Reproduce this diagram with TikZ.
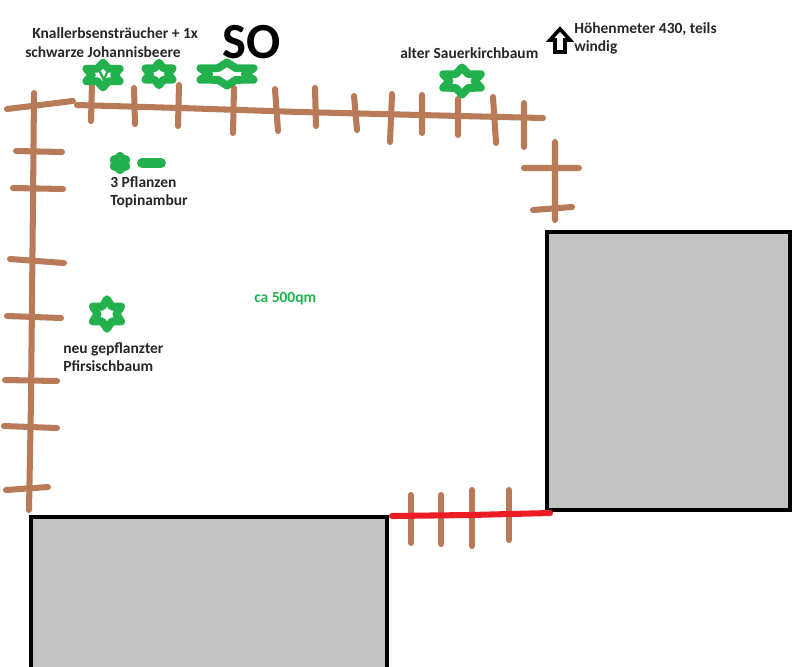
\documentclass[tikz,border=0pt]{standalone}
\usepackage{fontspec}
\setmainfont{Carlito}
\usetikzlibrary{shapes.geometric}
\definecolor{fencebrown}{HTML}{B97A57}
\definecolor{plantgreen}{HTML}{22B14C}
\definecolor{gatered}{HTML}{ED1C24}
\definecolor{housegray}{HTML}{C3C3C3}
\begin{document}
\begin{tikzpicture}[x=0.025cm,y=-0.025cm,
  fz/.style={draw=fencebrown,line width=4.3pt,line cap=round,line join=round},
  rt/.style={draw=gatered,line width=4.3pt,line cap=round},
  hs/.style={draw=black,fill=housegray,line width=2.8pt,line join=miter},
  pl/.style={draw=plantgreen,star,star points=6,star point ratio=1.73,inner sep=0pt,line width=5.6pt,line join=round,transform shape},
  lb/.style={font=\bfseries\fontsize{11}{13.2}\selectfont,align=left,anchor=north west,inner sep=0pt,text=black!85}]
\useasboundingbox (0,0) rectangle (800,666);
% houses
\path[hs] (547,232) rectangle (790,510);
\path[hs] (31,517) -- (387,517) -- (387,680) -- (31,680) -- cycle;
% fence left
\path[fz] (7,109) -- (40,105) -- (73,101);
\path[fz] (34,93) -- (33,200) -- (32,300) -- (31,400) -- (29,510);
\path[fz] (16,151) -- (62,152) (13,188) -- (63,189) (10,259) -- (64,263);
\path[fz] (7,316) -- (61,318) (5,380) -- (57,381) (4,426) -- (57,428) (6,490) -- (48,487);
% fence top
\path[fz] (77,105) -- (180,108) -- (300,112) -- (380,114) -- (460,116) -- (543,118);
\path[fz] (92,83) -- (91,121) (134,88) -- (135,124) (179,85) -- (178,126) (234,88) -- (233,133);
\path[fz] (275,89) -- (278,131) (315,88) -- (316,126) (354,96) -- (357,130) (392,94) -- (390,142);
\path[fz] (422,95) -- (422,133) (458,99) -- (458,135) (493,97) -- (496,143) (524,103) -- (524,147);
% fence right
\path[fz] (555,142) -- (555,220) (524,168) -- (579,168) (533,210) -- (572,207);
% gate
\path[fz] (411,495) -- (411,543) (441,495) -- (441,544) (472,490) -- (472,546) (509,490) -- (509,540);
\path[rt] (392,516) -- (470,515) -- (550,513);
% plants
\node[pl,minimum size=0.62cm,xscale=1.55] (strauchA) at (103,75) {};
\node[pl,minimum size=0.56cm,xscale=1.4] (strauchB) at (159,74) {};
\node[pl,minimum size=0.58cm,xscale=2.65] (strauchC) at (227,74) {};
\node[pl,minimum size=0.68cm,xscale=1.6] (kirsche) at (462,81) {};
\node[pl,minimum size=0.74cm,xscale=1.1] (pfirsich) at (107,314) {};
\node[pl,minimum size=0.32cm,line width=6.5pt] (topiA) at (120,163) {};
\draw[plantgreen,line width=7pt,line cap=round] (topiA.center) ++(22,0) coordinate (topiB) -- ++(19,0) coordinate (topiC);
\draw[plantgreen,line width=1.6pt,line cap=round] (100,72) -- (104,80) -- (108,70);
% arrow
\draw[black,line width=2.6pt,line join=miter,fill=white] (560,29) -- (570,40) -- (565,40) -- (565,52) -- (555,52) -- (555,40) -- (550,40) -- cycle;
% labels
\node[lb] (knaller) at (32,27) {Knallerbsensträucher + 1x};
\node[lb] (johannis) at (25,46) {schwarze Johannisbeere};
\node[lb,font=\bfseries\fontsize{36}{36}\selectfont,text=black] (so) at (222,25) {SO};
\node[lb] (sauer) at (400,47) {alter Sauerkirchbaum};
\node[lb] (hoehe) at (574,22) {Höhenmeter 430, teils\\windig};
\node[lb] (topi) at (110,176) {3 Pflanzen\\Topinambur};
\node[lb] (neu) at (63,342) {neu gepflanzter\\Pfirsischbaum};
\node[lb,text=plantgreen] (flaeche) at (254,292) {ca 500qm};
\end{tikzpicture}
\end{document}
